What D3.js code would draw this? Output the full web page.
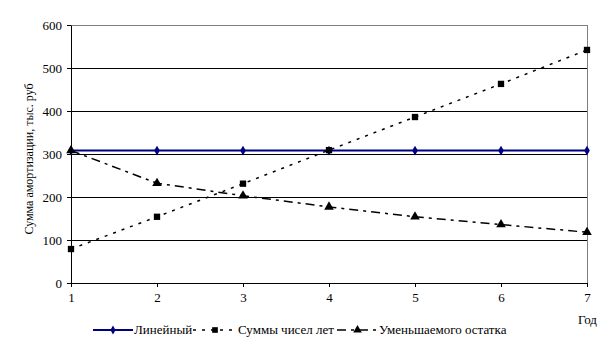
<!DOCTYPE html>
<html><head><meta charset="utf-8">
<script src="https://cdn.jsdelivr.net/npm/d3@7"></script>
<style>body{margin:0;background:#fff;}svg text{font-family:"Liberation Serif","Times New Roman","DejaVu Serif",serif !important;}</style>
</head><body><svg id="c" width="609" height="357"></svg>
<script>
const years = [1,2,3,4,5,6,7];
const linear = [308,308,308,308,308,308,308];
const sumYears = [79,154,231,309,386,463,542];
const declining = [308,232,203,177,154,136,118];
const yTicks = [0,100,200,300,400,500,600];
const seriesNames = ["Линейный","Суммы чисел лет","Уменьшаемого остатка"];

const FS = 13;
const svg = d3.select("#c");
const x = d3.scaleLinear().domain([1,7]).range([71,587]);
const y = d3.scaleLinear().domain([0,600]).range([283,25]);

svg.append("g").selectAll("line").data(yTicks.filter(d=>d>0)).join("line")
  .attr("x1",71).attr("x2",587).attr("y1",d=>Math.round(y(d))+0.5).attr("y2",d=>Math.round(y(d))+0.5)
  .attr("stroke",d=>d===600?"#808080":"#000").attr("stroke-width",1);
svg.append("line").attr("x1",587.5).attr("x2",587.5).attr("y1",y(600)).attr("y2",y(0)).attr("stroke","#808080");

const yAxis = svg.append("g").attr("transform","translate(71,0)")
  .call(d3.axisLeft(y).tickValues(yTicks).tickSize(4).tickSizeOuter(0).tickPadding(5));
const xAxis = svg.append("g").attr("transform",`translate(0,${y(0)})`)
  .call(d3.axisBottom(x).tickValues(years).tickSize(4).tickSizeOuter(0).tickPadding(6).tickFormat(d3.format("d")));
[yAxis,xAxis].forEach(a=>{
  a.attr("font-family",null).attr("font-size",null);
  a.selectAll("text").attr("font-size",FS).attr("fill","#000");
  a.select(".domain").attr("stroke","#000");
  a.selectAll(".tick line").attr("stroke","#000");
});

const line = d3.line().x((d,i)=>x(years[i])).y(d=>y(d));
const series = [
  {name:seriesNames[0], data:linear, color:"#000080", width:2, dash:null, marker:d3.symbolDiamond, size:28},
  {name:seriesNames[1], data:sumYears, color:"#000", width:1.5, dash:"3,6", marker:d3.symbolSquare, size:40},
  {name:seriesNames[2], data:declining, color:"#000", width:1.5, dash:"9,5,3,5", marker:d3.symbolTriangle, size:40}
];
series.forEach(s=>{
  svg.append("path").datum(s.data).attr("d",line).attr("fill","none")
    .attr("stroke",s.color).attr("stroke-width",s.width).attr("stroke-dasharray",s.dash);
  svg.append("g").selectAll("path").data(s.data).join("path")
    .attr("d",d3.symbol().type(s.marker).size(s.size))
    .attr("transform",(d,i)=>`translate(${x(years[i])},${y(d)})`)
    .attr("fill",s.color);
});

svg.append("text").attr("transform","translate(33,159) rotate(-90)").attr("text-anchor","middle")
  .attr("font-size",12).attr("fill","#000").text("Сумма амортизации, тыс. руб");
svg.append("text").attr("x",597).attr("y",324).attr("text-anchor","end").attr("font-size",FS).attr("fill","#000").text("Год");

const legX = [93,193,337];
const legW = [40,44,41];
series.forEach((s,i)=>{
  const g = svg.append("g");
  g.append("line").attr("x1",legX[i]).attr("x2",legX[i]+legW[i]).attr("y1",330).attr("y2",330)
    .attr("stroke",s.color).attr("stroke-width",s.width).attr("stroke-dasharray",s.dash);
  g.append("path").attr("d",d3.symbol().type(s.marker).size(s.size*0.8))
    .attr("transform",`translate(${legX[i]+legW[i]/2},330)`).attr("fill",s.color);
  g.append("text").attr("x",legX[i]+legW[i]+1).attr("y",334).attr("font-size",FS).attr("fill","#000").text(s.name);
});
</script></body></html>
